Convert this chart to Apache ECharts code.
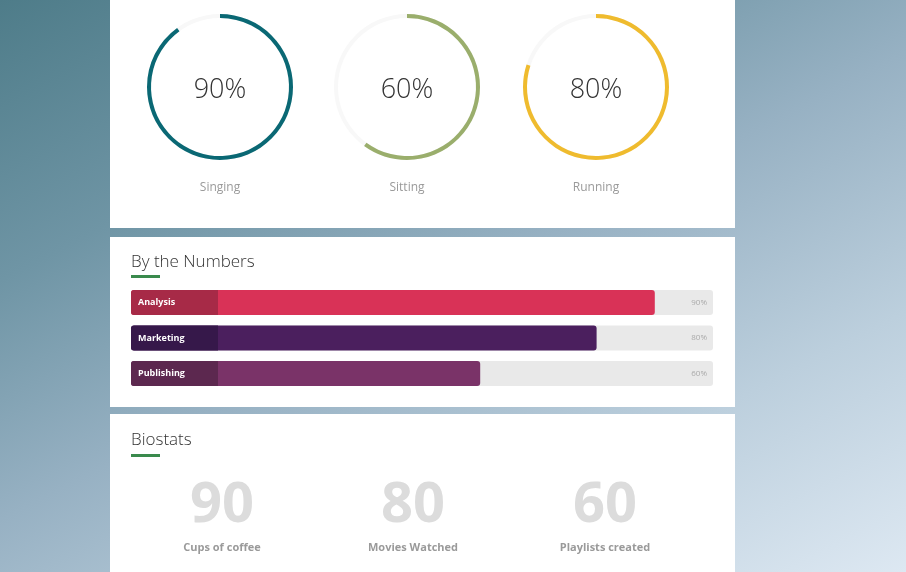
<!DOCTYPE html>
<html>
<head>
<meta charset="utf-8">
<script src="https://cdn.jsdelivr.net/npm/echarts@6/dist/echarts.min.js"></script>
<style>
html,body{margin:0;padding:0;}
#c{width:906px;height:572px;}
</style>
</head>
<body>
<div id="c"></div>
<script>
// ---- data ----
const ringNames = ['Singing', 'Sitting', 'Running'];
const ringValues = [90, 60, 80];
const ringColors = ['#0a6874', '#9aae6c', '#efbb2e'];

const barCategories = ['Analysis', 'Marketing', 'Publishing'];
const barValues = [90, 80, 60];
const barColors = ['#d93257', '#4b1f5e', '#7a3368'];
const barLabelColors = ['#a72a47', '#36184a', '#5c284f'];

const statValues = [90, 80, 60];
const statLabels = ['Cups of coffee', 'Movies Watched', 'Playlists created'];

const sectionTitles = ['By the Numbers', 'Biostats'];

// ---- layout ----
const FONT = '"Open Sans", "Noto Sans", sans-serif';
const ringCentersX = [220, 407, 596];
const statCentersX = [222, 413, 605];

const chart = echarts.init(document.getElementById('c'), null, {renderer: 'canvas'});

const gaugeSeries = ringValues.map((v, i) => ({
  type: 'gauge',
  center: [ringCentersX[i], 87],
  radius: 73,
  startAngle: 90,
  endAngle: -270,
  min: 0,
  max: 100,
  silent: true,
  animation: false,
  pointer: {show: false},
  anchor: {show: false},
  axisTick: {show: false},
  splitLine: {show: false},
  axisLabel: {show: false},
  axisLine: {lineStyle: {width: 4, color: [[1, '#f8f8f8']]}},
  progress: {show: true, width: 4, roundCap: false, itemStyle: {color: ringColors[i]}},
  title: {
    show: true,
    offsetCenter: [0, 101],
    color: '#9a9a9a',
    fontSize: 12,
    fontFamily: FONT
  },
  detail: {
    show: true,
    offsetCenter: [0, 3],
    formatter: '{value}%',
    color: '#333',
    fontSize: 27,
    fontWeight: 300,
    fontFamily: FONT
  },
  data: [{value: v, name: ringNames[i]}]
}));

const cards = [
  {y: -10, h: 238},
  {y: 237, h: 170},
  {y: 414, h: 170}
].map(c => ({
  type: 'rect',
  shape: {x: 110, y: c.y, width: 625, height: c.h},
  style: {fill: '#ffffff'},
  z: -10,
  silent: true
}));

const titleEls = [];
[[262, 275], [440, 454]].forEach((p, i) => {
  titleEls.push({
    type: 'text',
    x: 131, y: p[0],
    style: {text: sectionTitles[i], fill: '#333', font: '300 17px ' + FONT, verticalAlign: 'middle'},
    z: 5
  });
  titleEls.push({
    type: 'rect',
    shape: {x: 131, y: p[1], width: 29, height: 3},
    style: {fill: '#3a8a4d'},
    z: 5
  });
});

const statEls = [];
statValues.forEach((v, i) => {
  statEls.push({
    type: 'text',
    x: statCentersX[i], y: 506,
    style: {text: String(v), fill: '#dcdcdc', font: 'bold 56px ' + FONT, align: 'center', verticalAlign: 'middle'},
    z: 5
  });
  statEls.push({
    type: 'text',
    x: statCentersX[i], y: 548,
    style: {text: statLabels[i], fill: '#9a9a9a', font: 'bold 11px ' + FONT, align: 'center', verticalAlign: 'middle'},
    z: 5
  });
});

const option = {
  animation: false,
  backgroundColor: {
    type: 'linear', x: 0, y: 0, x2: 0.468, y2: 1.435,
    colorStops: [
      {offset: 0, color: '#4e7c89'},
      {offset: 0.27, color: '#6f95a5'},
      {offset: 0.5, color: '#97b1c3'},
      {offset: 0.75, color: '#bccfdd'},
      {offset: 1, color: '#dde8f2'}
    ]
  },
  graphic: [...cards, ...titleEls, ...statEls],
  grid: {left: 131, width: 582, top: 284.75, height: 106.5, containLabel: false},
  xAxis: {type: 'value', min: 0, max: 100, show: false},
  yAxis: [
    {
      type: 'category', inverse: true, data: barCategories,
      axisLine: {show: false}, axisTick: {show: false}, axisLabel: {show: false}
    },
    {
      type: 'category', inverse: true, position: 'right',
      data: barValues.map(v => v + '%'),
      axisLine: {show: false}, axisTick: {show: false}, splitLine: {show: false},
      axisLabel: {inside: true, margin: 6, color: '#aaa', fontSize: 8, fontFamily: FONT},
      z: 10
    }
  ],
  series: [
    {
      type: 'bar',
      yAxisIndex: 0,
      barWidth: 25,
      showBackground: true,
      backgroundStyle: {color: '#e9e9e9', borderRadius: 3},
      itemStyle: {borderRadius: 3},
      label: {
        show: true,
        position: 'insideLeft',
        distance: 0,
        formatter: '{b}',
        color: '#fff',
        fontSize: 9,
        fontWeight: 'bold',
        fontFamily: FONT,
        width: 80,
        height: 25,
        lineHeight: 25,
        padding: [0, 0, 0, 7],
        borderRadius: [3, 0, 0, 3]
      },
      data: barValues.map((v, i) => ({
        value: v,
        itemStyle: {color: barColors[i]},
        label: {backgroundColor: barLabelColors[i]}
      }))
    },
    ...gaugeSeries
  ]
};
chart.setOption(option);
</script>
</body>
</html>
